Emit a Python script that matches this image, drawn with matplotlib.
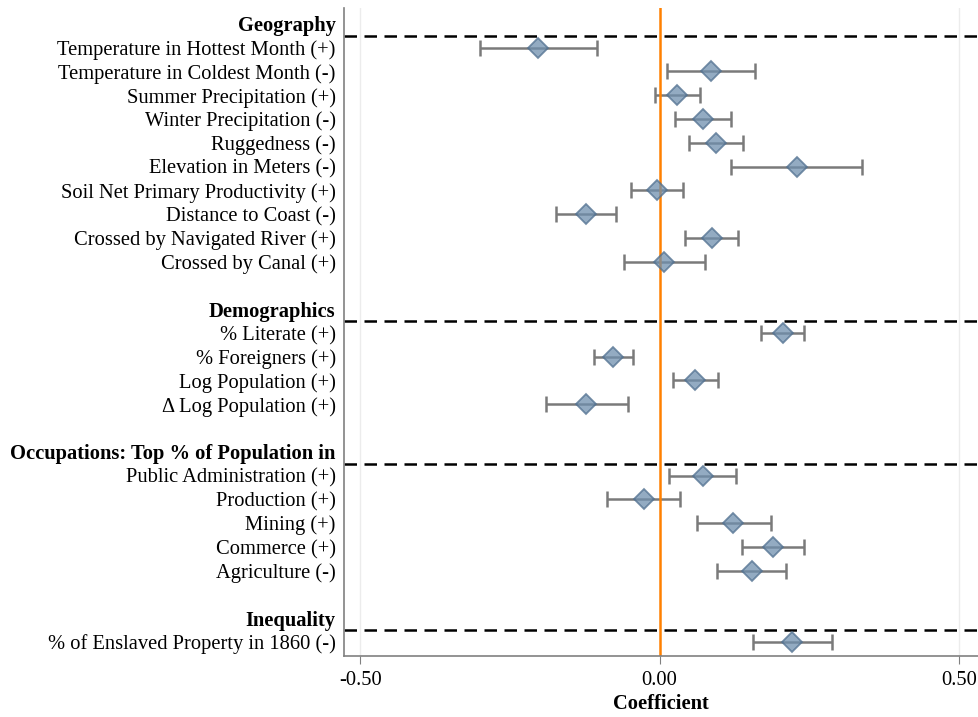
import matplotlib
matplotlib.use("Agg")
import matplotlib.pyplot as plt
import numpy as np

plt.rcParams['font.family'] = ['Liberation Serif', 'DejaVu Serif']

# groups and variables (top to bottom)
groups = ["Geography", "Demographics", "Occupations: Top % of Population in", "Inequality"]
variables = [
    ["Temperature in Hottest Month (+)", "Temperature in Coldest Month (-)",
     "Summer Precipitation (+)", "Winter Precipitation (-)", "Ruggedness (-)",
     "Elevation in Meters (-)", "Soil Net Primary Productivity (+)",
     "Distance to Coast (-)", "Crossed by Navigated River (+)", "Crossed by Canal (+)"],
    ["% Literate (+)", "% Foreigners (+)", "Log Population (+)", "\u0394 Log Population (+)"],
    ["Public Administration (+)", "Production (+)", "Mining (+)", "Commerce (+)", "Agriculture (-)"],
    ["% of Enslaved Property in 1860 (-)"],
]
coef = [
    [-0.203, 0.086, 0.030, 0.072, 0.095, 0.229, -0.005, -0.123, 0.087, 0.008],
    [0.206, -0.077, 0.060, -0.122],
    [0.072, -0.026, 0.123, 0.190, 0.154],
    [0.222],
]
ci_low = [
    [-0.300, 0.012, -0.008, 0.026, 0.050, 0.120, -0.048, -0.173, 0.043, -0.060],
    [0.169, -0.109, 0.022, -0.190],
    [0.016, -0.087, 0.062, 0.138, 0.096],
    [0.156],
]
ci_high = [
    [-0.104, 0.160, 0.068, 0.119, 0.139, 0.339, 0.039, -0.072, 0.131, 0.076],
    [0.242, -0.044, 0.098, -0.053],
    [0.128, 0.034, 0.186, 0.242, 0.211],
    [0.288],
]

fig = plt.figure(figsize=(9.79, 7.17), dpi=100)
ax = fig.add_axes([344 / 979, 1 - 656 / 717, (978 - 344) / 979, (656 - 8) / 717])

ticks, labels, header_pos = [], [], []
row = 0
for g, name in enumerate(groups):
    ticks.append(row)
    labels.append(name)
    header_pos.append(row)
    ax.axhline(row + 0.5, color="black", linestyle=(0, (5, 3)), linewidth=1.8, zorder=1)
    for i, lab in enumerate(variables[g]):
        row += 1
        y = row
        c = coef[g][i]
        ax.errorbar(c, y, xerr=[[c - ci_low[g][i]], [ci_high[g][i] - c]], fmt="none",
                    ecolor="#7a7a7a", elinewidth=1.8, capsize=6, capthick=1.8, zorder=2)
        ax.plot(c, y, marker="D", markersize=10, markerfacecolor="#6f8fae",
                markeredgecolor="#4f6f8f", markeredgewidth=1.3, alpha=0.75,
                linestyle="none", zorder=3)
        ticks.append(y)
        labels.append(lab)
    row += 2

ax.axvline(0, color="#ff8000", linewidth=1.8, zorder=2)
for gx in [-0.5, 0.5]:
    ax.axvline(gx, color="#ececec", linewidth=1, zorder=0)

ax.set_xlim(-0.527, 0.532)
ax.set_ylim(26.59, -0.67)
ax.set_xticks([-0.5, 0, 0.5])
ax.set_xticklabels(["-0.50", "0.00", "0.50"], fontsize=14.8)
ax.set_yticks(ticks)
ax.set_yticklabels(labels, fontsize=14.8)
for t, pos in zip(ax.get_yticklabels(), ticks):
    if pos in header_pos:
        t.set_fontweight("bold")
ax.tick_params(axis="y", length=0, pad=6)
ax.tick_params(axis="x", length=6, color="#808080", pad=5)
ax.set_xlabel("Coefficient", fontsize=14.8, fontweight="bold", labelpad=3)

for s in ["top", "right"]:
    ax.spines[s].set_visible(False)
for s in ["left", "bottom"]:
    ax.spines[s].set_color("#808080")
    ax.spines[s].set_linewidth(1.2)

fig.savefig("out.png", dpi=100)
